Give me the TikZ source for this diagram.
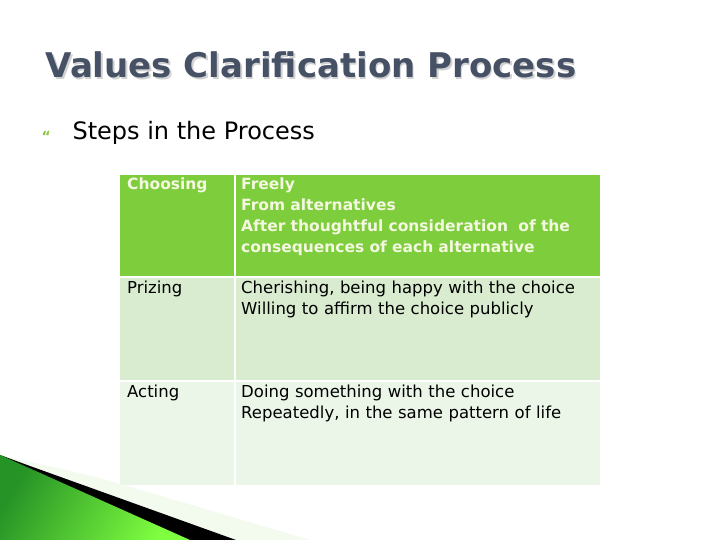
\documentclass[tikz,border=0pt]{standalone}
\usepackage{fontspec}
\setmainfont{DejaVu Sans}
\begin{document}
\begin{tikzpicture}[x=1pt,y=-1pt,
  cell/.style={anchor=north west,inner sep=0pt,text width=#1,align=left,font=\fontsize{16.5}{21}\selectfont},
]
\definecolor{titlec}{HTML}{465166}
\definecolor{hdr}{HTML}{7DCD3C}
\definecolor{rowa}{HTML}{D9ECD0}
\definecolor{rowb}{HTML}{EBF5E8}
\definecolor{bul}{HTML}{8CC63F}
\definecolor{htxt}{HTML}{F4F8E0}
\useasboundingbox (0,0) rectangle (720,540);
\fill[white] (0,0) rectangle (720,540);
% decoration
\fill[rowb!80!hdr!30] (0,455) -- (100,478) -- (310,540) -- (0,540) -- cycle;
\fill[black] (0,455) -- (30,466) -- (236,540) -- (0,540) -- cycle;
\shade[left color=green!50!black!85, right color=green!55!lime!75,shading angle=60] (0,455) -- (190,540) -- (0,540) -- cycle;
% title
\node[anchor=west,font=\bfseries\fontsize{34}{40}\selectfont,text=gray!35] (tsh) at (43.5,66.5) {Values Clarification Process};
\node[anchor=west,font=\bfseries\fontsize{34}{40}\selectfont,text=titlec] (title) at (42,65) {Values Clarification Process};
\node[anchor=west,font=\bfseries\fontsize{14}{14}\selectfont,text=bul] (b) at (38,136) {“};
\node[anchor=west,font=\fontsize{24}{28}\selectfont] (sub) at (69,133) {Steps in the Process};
% table
\fill[hdr] (120,175) rectangle (600,277);
\fill[rowa] (120,277) rectangle (600,381);
\fill[rowb] (120,381) rectangle (600,485);
\draw[white,line width=1.5pt] (235,175) -- (235,485) (120,277) -- (600,277) (120,381) -- (600,381);
\node[cell=110pt,text=htxt,font=\bfseries\fontsize{15.5}{21}\selectfont] (c1) at (127,178) {Choosing};
\node[cell=400pt,text=htxt,font=\bfseries\fontsize{15.5}{21}\selectfont] (d1) at (241,178) {Freely\\From alternatives\\After thoughtful consideration\ \ of the\\consequences of each alternative};
\node[cell=105pt] (c2) at (127,281) {Prizing};
\node[cell=400pt] (d2) at (241,281) {Cherishing, being happy with the choice\\Willing to affirm the choice publicly};
\node[cell=105pt] (c3) at (127,385) {Acting};
\node[cell=400pt] (d3) at (241,385) {Doing something with the choice\\Repeatedly, in the same pattern of life};
\end{tikzpicture}
\end{document}
